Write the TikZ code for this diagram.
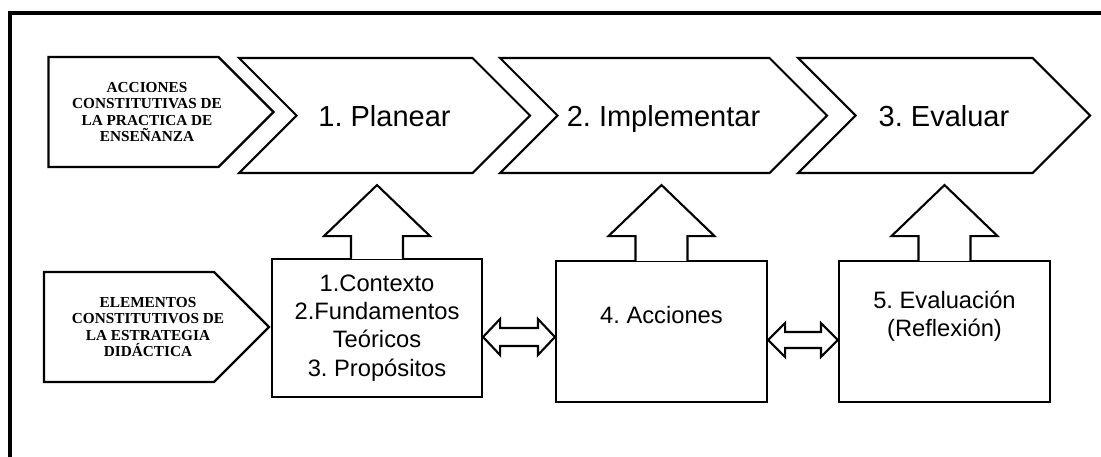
\documentclass[tikz,border=0pt]{standalone}
\usepackage{fontspec}
\setmainfont{Liberation Serif}
\setsansfont{Liberation Sans}
\usepackage{tikz}
\usetikzlibrary{positioning, arrows, shapes, calc}
\frenchspacing
\tikzstyle{stage} = [signal, signal from=west, signal to=east, draw, line width=1.2pt,
    minimum height=23mm, text height=15pt, text depth=2pt,
    font=\sffamily\fontsize{16.5}{19}\selectfont]
\tikzstyle{tag} = [signal, signal to=east, draw, line width=1.3pt, minimum width=45mm,
    minimum height=22mm]
\tikzstyle{tagtext} = [align=center, font=\bfseries\fontsize{8.7}{9.3}\selectfont]
\tikzstyle{block} = [rectangle, draw, line width=1.2pt, minimum width=42.2mm,
    minimum height=28.2mm, align=center, font=\sffamily\fontsize{13.5}{16}\selectfont]
\tikzstyle{upway} = [draw, fill=white, line width=1.2pt]
\tikzstyle{twoway} = [draw, fill=white, line width=1.2pt]

\begin{document}
\begin{tikzpicture}[x=0.2mm, y=-0.2mm]
      \useasboundingbox (0,0) rectangle (1101,456);
      \clip (0,0) rectangle (1101,456);
      % Outer frame
      \draw [line width=1.8pt] (1120,13) -| (10,470);
      % Place the actions row
      \node [tag, label={[tagtext, xshift=2.7mm]center:ACCIONES\\CONSTITUTIVAS DE\\LA PRACTICA DE\\ENSEÑANZA}] (acts) at (133.5,112) {};
      \node [stage, minimum width=58.2mm] (plan) at (384.5,115.5) {1. Planear};
      \node [stage, minimum width=65.4mm, right of=plan, node distance=5.58cm] (impl) {2. Implementar};
      \node [stage, minimum width=58.4mm, right of=impl, node distance=5.61cm] (eval) {3. Evaluar};
      % Place the elements row
      \node [tag, label={[tagtext, xshift=3.8mm]center:ELEMENTOS\\CONSTITUTIVOS DE\\LA ESTRATEGIA\\DIDÁCTICA}] (elems) at (129,327) {};
      \node [block, minimum width=42mm, minimum height=27.6mm] (ctx) at (377,328) {1.Contexto\\2.Fundamentos\\Teóricos\\3. Propósitos};
      \node [block, text depth=18.5pt] (acc) at (661.5,331.5) {4. Acciones};
      \node [block, text depth=20pt, right of=acc, node distance=5.66cm] (evl) {5. Evaluación\\(Reflexión)};
      % Draw the arrows up to the stages
      \draw [upway] ($(ctx.north)+(-26,1)$) |- ($(ctx.north |- plan.south)+(-53,62)$) -- ($(ctx.north |- plan.south)+(0,11)$) -- ($(ctx.north |- plan.south)+(53,62)$) -| ($(ctx.north)+(26,1)$);
      \draw [upway] ($(acc.north)+(-26,1)$) |- ($(acc.north |- impl.south)+(-53,62)$) -- ($(acc.north |- impl.south)+(0,11)$) -- ($(acc.north |- impl.south)+(53,62)$) -| ($(acc.north)+(26,1)$);
      \draw [upway] ($(evl.north)+(-26,1)$) |- ($(evl.north |- eval.south)+(-53,62)$) -- ($(evl.north |- eval.south)+(0,11)$) -- ($(evl.north |- eval.south)+(53,62)$) -| ($(evl.north)+(26,1)$);
      % Draw the two-way arrows between the boxes
      \draw [twoway] (ctx.east |- 0,337) -- ++(17,-18) -- ++(0,9) -- ($(acc.west |- 0,328)+(-17,0)$) -- ++(0,-9) -- (acc.west |- 0,337) -- ++(-17,18) -- ++(0,-9) -- ($(ctx.east |- 0,346)+(17,0)$) -- ++(0,9) -- cycle;
      \draw [twoway] (acc.east |- 0,340) -- ++(17,-17) -- ++(0,9) -- ($(evl.west |- 0,332)+(-17,0)$) -- ++(0,-9) -- (evl.west |- 0,340) -- ++(-17,17) -- ++(0,-9) -- ($(acc.east |- 0,348)+(17,0)$) -- ++(0,9) -- cycle;
  \end{tikzpicture}
\end{document}
